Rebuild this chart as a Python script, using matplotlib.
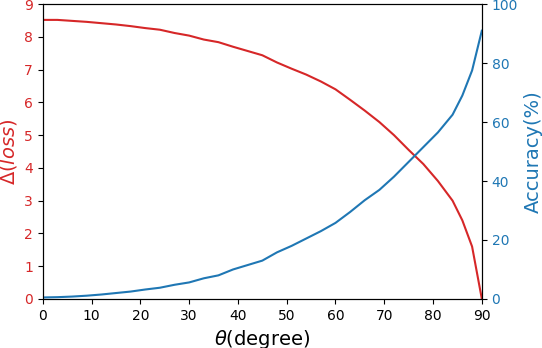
import matplotlib.pyplot as plt

theta = [0, 3, 6, 9, 12, 15, 18, 21, 24, 27, 30, 33, 36, 39, 42, 45, 48, 51, 54,
         57, 60, 63, 66, 69, 72, 75, 78, 81, 84, 86, 88, 90]
delta_loss = [8.52, 8.52, 8.49, 8.46, 8.42, 8.38, 8.33, 8.27, 8.22, 8.12, 8.04, 7.92,
              7.84, 7.70, 7.57, 7.44, 7.22, 7.03, 6.85, 6.64, 6.40, 6.08, 5.75, 5.40,
              5.00, 4.55, 4.12, 3.60, 3.00, 2.40, 1.60, 0.0]
accuracy = [0.5, 0.6, 0.8, 1.1, 1.5, 2.0, 2.5, 3.2, 3.8, 4.8, 5.6, 7.0, 8.0, 10.0,
            11.5, 13.0, 15.8, 18.0, 20.5, 23.0, 25.8, 29.5, 33.5, 37.0, 41.5, 46.5,
            51.5, 56.5, 62.5, 69.0, 77.5, 91.0]

red = 'tab:red'
blue = 'tab:blue'

fig, ax1 = plt.subplots(figsize=(5.42, 3.48), dpi=100)
fig.subplots_adjust(left=0.079, right=0.889, top=0.988, bottom=0.141)

ax1.plot(theta, delta_loss, color=red, linewidth=1.5)
ax1.set_xlim(0, 90)
ax1.set_ylim(0, 9)
ax1.set_xlabel(r'$\theta$(degree)', fontsize=14)
ax1.set_ylabel(r'$\Delta(loss)$', color=red, fontsize=14)
ax1.tick_params(axis='y', labelcolor=red)

ax2 = ax1.twinx()
ax2.plot(theta, accuracy, color=blue, linewidth=1.5)
ax2.set_ylim(0, 100)
ax2.set_ylabel('Accuracy(%)', color=blue, fontsize=14)
ax2.tick_params(axis='y', labelcolor=blue)

plt.savefig('out.png')
